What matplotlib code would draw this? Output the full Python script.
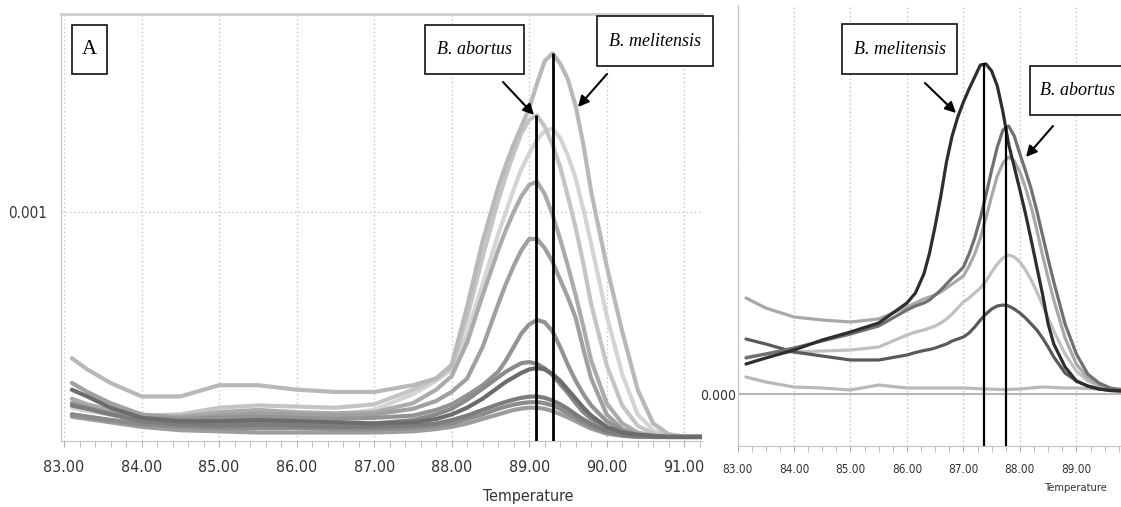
import numpy as np
import matplotlib
matplotlib.use('Agg')
import matplotlib.pyplot as plt
from matplotlib.patches import Rectangle, FancyArrowPatch
from matplotlib.ticker import MultipleLocator

# panel A: melt-curve derivative, values in units of 1e-4
temp_a = [83.1, 83.3, 83.6, 84.0, 84.5, 85.0, 85.5, 86.0, 86.5, 87.0, 87.5, 87.8,
          88.0, 88.2, 88.4,
          88.6, 88.7, 88.8, 88.9, 89.0, 89.1, 89.2, 89.3, 89.4, 89.5, 89.6, 89.7, 89.8,
          90.0, 90.2, 90.4, 90.6, 90.8, 91.0, 91.23]
a_mel = [3.5, 3.0, 2.4, 1.8, 1.8, 2.3, 2.3, 2.1, 2.0, 2.0, 2.3, 2.6,
         3.2, 5.8, 8.7,
         11.1, 12.1, 13.0, 13.8, 14.6, 15.7, 16.7, 17.05, 16.6, 15.9, 14.7, 13.0, 10.9,
         7.6, 4.7, 2.1, 0.6, 0.12, 0.02, 0.0]
a_abo = [1.5, 1.35, 1.2, 0.95, 1.0, 1.3, 1.4, 1.35, 1.3, 1.45, 2.1, 2.6,
         3.1, 5.3, 8.0,
         10.5, 11.6, 12.6, 13.5, 14.1, 14.3, 13.8, 13.0, 12.0, 10.7, 9.3, 7.7, 5.9,
         3.2, 1.4, 0.5, 0.15, 0.05, 0.0, 0.0]
a_c1b = [1.3, 1.15, 1.0, 0.8, 0.85, 1.05, 1.1, 1.05, 1.0, 1.2, 1.9, 2.5,
         3.0, 4.6, 6.8,
         9.0, 10.0, 11.0, 11.9, 12.6, 13.2, 13.6, 13.7, 13.3, 12.5, 11.5, 10.1, 8.6,
         5.4, 2.8, 1.0, 0.3, 0.08, 0.0, 0.0]
a_c3 = [1.7, 1.45, 1.2, 0.9, 0.9, 1.1, 1.2, 1.1, 1.05, 1.1, 1.5, 2.1,
        2.7, 4.2, 6.3,
        8.3, 9.2, 10.0, 10.7, 11.2, 11.35, 10.8, 9.9, 8.8, 7.6, 6.3, 4.9, 3.4,
        1.5, 0.6, 0.2, 0.05, 0.0, 0.0, 0.0]
a_c4 = [2.4, 2.0, 1.5, 1.0, 0.85, 0.95, 1.05, 1.0, 0.95, 1.0, 1.25, 1.6,
        2.0, 2.6, 4.0,
        5.9, 6.8, 7.6, 8.3, 8.8, 8.8, 8.4, 7.8, 7.0, 6.2, 5.3, 3.9, 2.6,
        1.0, 0.35, 0.1, 0.0, 0.0, 0.0, 0.0]
a_c5 = [1.5, 1.3, 1.05, 0.85, 0.8, 0.85, 0.9, 0.85, 0.8, 0.85, 0.95, 1.2,
        1.45, 1.85, 2.3,
        2.9, 3.4, 4.0, 4.6, 5.0, 5.2, 5.1, 4.7, 4.0, 3.2, 2.5, 1.9, 1.4,
        0.7, 0.3, 0.1, 0.05, 0.0, 0.0, 0.0]
a_c6 = [1.0, 0.9, 0.75, 0.6, 0.55, 0.6, 0.65, 0.6, 0.55, 0.6, 0.75, 1.0,
        1.25, 1.65, 2.15,
        2.65, 2.9, 3.1, 3.28, 3.33, 3.25, 3.05, 2.75, 2.35, 1.95, 1.5, 1.1, 0.8,
        0.35, 0.15, 0.05, 0.0, 0.0, 0.0, 0.0]
a_c7 = [2.1, 1.8, 1.3, 0.85, 0.7, 0.7, 0.75, 0.7, 0.65, 0.6, 0.65, 0.8,
        1.0, 1.3, 1.7,
        2.2, 2.45, 2.65, 2.85, 3.0, 3.07, 3.0, 2.8, 2.5, 2.1, 1.7, 1.3, 0.95,
        0.45, 0.2, 0.1, 0.05, 0.0, 0.0, 0.0]
a_c8 = [1.4, 1.25, 1.0, 0.7, 0.55, 0.5, 0.55, 0.5, 0.45, 0.45, 0.5, 0.6,
        0.75, 0.95, 1.2,
        1.45, 1.56, 1.66, 1.74, 1.79, 1.8, 1.74, 1.62, 1.45, 1.25, 1.0, 0.78, 0.57,
        0.25, 0.1, 0.05, 0.0, 0.0, 0.0, 0.0]
a_c9 = [1.0, 0.9, 0.75, 0.55, 0.45, 0.4, 0.4, 0.4, 0.35, 0.35, 0.4, 0.5,
        0.6, 0.8, 1.0,
        1.25, 1.35, 1.44, 1.5, 1.54, 1.55, 1.5, 1.4, 1.25, 1.05, 0.85, 0.65, 0.47,
        0.2, 0.08, 0.0, 0.0, 0.0, 0.0, 0.0]
a_c10 = [0.9, 0.8, 0.65, 0.45, 0.3, 0.25, 0.2, 0.2, 0.2, 0.2, 0.25, 0.35,
         0.45, 0.6, 0.8,
         1.0, 1.1, 1.2, 1.26, 1.3, 1.3, 1.25, 1.15, 1.02, 0.87, 0.7, 0.53, 0.37,
         0.15, 0.05, 0.0, 0.0, 0.0, 0.0, 0.0]
a_peak_t = [89.09, 89.31]      # abortus, melitensis
a_peak_h = [14.3, 17.07]

# panel B
temp_b = [83.15, 83.5, 84.0, 84.5, 85.0, 85.5, 86.0, 86.15, 86.3, 86.4,
          86.5, 86.6, 86.7, 86.8, 86.9, 87.0, 87.1, 87.2, 87.3, 87.4, 87.5,
          87.6, 87.7, 87.8, 87.9, 88.0, 88.1, 88.2, 88.3, 88.4, 88.5, 88.6,
          88.8, 89.0, 89.2, 89.4, 89.6, 89.8]
b_mel = [3.0, 3.6, 4.4, 5.4, 6.2, 7.1, 9.1, 10.1, 12.0, 14.1,
         16.8, 19.8, 23.2, 25.8, 27.7, 29.2, 30.5, 31.7, 32.9, 33.0, 32.3,
         30.8, 28.2, 25.0, 22.7, 20.4, 18.0, 15.4, 12.7, 10.0, 7.0, 5.0,
         2.7, 1.3, 0.8, 0.5, 0.35, 0.3]
b_abo = [3.6, 4.0, 4.6, 5.3, 6.0, 6.8, 8.4, 8.8, 9.1, 9.4,
         9.9, 10.4, 11.0, 11.6, 12.1, 12.7, 14.0, 15.6, 17.6, 19.9, 22.4,
         24.7, 26.4, 26.8, 25.8, 24.0, 22.3, 20.5, 18.3, 15.9, 13.5, 11.2,
         7.0, 4.0, 2.0, 1.1, 0.6, 0.4]
b_c3 = [9.6, 8.6, 7.7, 7.4, 7.2, 7.5, 8.7, 9.1, 9.5, 9.7,
        9.9, 10.2, 10.6, 11.0, 11.4, 11.8, 12.8, 14.0, 15.6, 17.6, 19.8,
        21.8, 23.1, 23.7, 23.3, 22.2, 20.6, 18.7, 16.4, 13.9, 11.6, 9.4,
        5.6, 3.0, 1.6, 0.9, 0.5, 0.4]
b_c4 = [3.7, 4.0, 4.2, 4.3, 4.4, 4.7, 5.9, 6.2, 6.4, 6.6,
        6.8, 7.1, 7.5, 8.0, 8.6, 9.2, 9.6, 10.1, 10.6, 11.3, 12.2,
        13.0, 13.6, 13.9, 13.7, 13.2, 12.4, 11.4, 10.2, 8.9, 7.6, 6.3,
        4.0, 2.3, 1.3, 0.8, 0.5, 0.4]
b_c5 = [5.5, 5.0, 4.2, 3.8, 3.4, 3.4, 3.9, 4.15, 4.35, 4.45,
        4.6, 4.8, 5.0, 5.3, 5.5, 5.7, 6.1, 6.7, 7.4, 8.0, 8.5,
        8.8, 8.9, 8.8, 8.5, 8.1, 7.6, 7.0, 6.4, 5.6, 4.7, 3.7,
        2.1, 1.3, 0.8, 0.5, 0.35, 0.3]
b_c6 = [1.7, 1.2, 0.7, 0.6, 0.4, 0.9, 0.6, 0.6, 0.6, 0.6,
        0.6, 0.6, 0.6, 0.6, 0.6, 0.6, 0.58, 0.55, 0.52, 0.5, 0.48,
        0.46, 0.45, 0.46, 0.48, 0.5, 0.55, 0.6, 0.65, 0.7, 0.68, 0.65,
        0.6, 0.6, 0.55, 0.5, 0.5, 0.5]
b_peak_t = [87.36, 87.76]      # melitensis, abortus
b_peak_h = [33.1, 26.8]

scale = 1e-4
W, H = 1121, 507
sans = ['DejaVu Sans']
serif = ['Liberation Serif', 'DejaVu Serif']


def rect(l, t, r, b):
    return [l / W, 1 - b / H, (r - l) / W, (b - t) / H]


def fp(x, y):
    return (x / W, 1 - y / H)


fig = plt.figure(figsize=(W / 100, H / 100), dpi=100)

# ---- panel A
ax = fig.add_axes(rect(61, 14, 702, 441))
curves_a = [(a_c1b, '#d4d4d4'), (a_abo, '#c4c4c4'), (a_mel, '#b8b8b8'), (a_c3, '#ababab'),
            (a_c4, '#a0a0a0'), (a_c10, '#9c9c9c'), (a_c5, '#939393'), (a_c9, '#8c8c8c'),
            (a_c6, '#8a8a8a'), (a_c8, '#7c7c7c'), (a_c7, '#6c6c6c')]
for vals, col in curves_a:
    ax.plot(temp_a, np.array(vals) * scale, color=col, lw=3, solid_capstyle='round',
            solid_joinstyle='round')
ax.set_xlim(82.96, 91.23)
ax.set_ylim(-0.18 * scale, 18.8 * scale)
ax.vlines(a_peak_t, -0.18 * scale, np.array(a_peak_h) * scale, color='k', lw=2, zorder=5)

ax.set_xticks(range(83, 92))
ax.set_xticklabels(['%.2f' % t for t in range(83, 92)], family=sans, fontstretch='condensed',
                   fontsize=11.5, color='#333333')
ax.xaxis.set_minor_locator(MultipleLocator(0.2))
ax.tick_params(axis='x', which='both', direction='out', length=4, color='#b0b0b0', pad=10)
ax.set_yticks([0.001])
ax.set_yticklabels(['0.001'], family=sans, fontstretch='condensed', fontsize=11,
                   color='#333333')
ax.tick_params(axis='y', length=0, pad=10)
ax.grid(True, ls=(0, (1, 2)), color='#c4c4c4', lw=1)
ax.set_xlabel('Temperature', family=sans, fontstretch='condensed', fontsize=11.5,
              color='#333333', x=0.729, labelpad=10)
for s in ['left', 'bottom']:
    ax.spines[s].set_color('#c4c4c4')
ax.spines['top'].set_color('#cccccc')
ax.spines['top'].set_linewidth(2)
ax.spines['right'].set_visible(False)

# ---- panel B
bx = fig.add_axes(rect(737.5, 5, 1121, 446))
curves_b = [(b_c6, '#b8b8b8'), (b_c4, '#c0c0c0'), (b_c3, '#a8a8a8'), (b_c5, '#5a5a5a'),
            (b_abo, '#707070'), (b_mel, '#2e2e2e')]
for vals, col in curves_b:
    bx.plot(temp_b, np.array(vals) * scale, color=col, lw=2.3, solid_capstyle='round',
            solid_joinstyle='round')
bx.set_xlim(83.0, 89.79)
bx.set_ylim(-5.2 * scale, 38.9 * scale)
bx.vlines(b_peak_t, -5.2 * scale, np.array(b_peak_h) * scale, color='k', lw=1.6, zorder=5)
bx.axhline(0, color='#b8b8b8', lw=1.5, zorder=0)

bx.set_xticks(range(83, 90))
bx.set_xticklabels(['%.2f' % t for t in range(83, 90)], family=sans, fontstretch='condensed',
                   fontsize=8.5, color='#333333')
bx.xaxis.set_minor_locator(MultipleLocator(0.25))
bx.tick_params(axis='x', which='both', direction='out', length=4, color='#b0b0b0', pad=8)
bx.set_yticks([0])
bx.set_yticklabels(['0.000'], family=sans, fontstretch='condensed', fontsize=10,
                   color='#333333')
bx.tick_params(axis='y', length=0, pad=1)
bx.grid(True, axis='x', ls=(0, (1, 2)), color='#c4c4c4', lw=1)
bx.set_xlabel('Temperature', family=sans, fontstretch='condensed', fontsize=8,
              color='#333333', x=0.885, labelpad=5)
for s in ['left', 'bottom']:
    bx.spines[s].set_color('#c4c4c4')
for s in ['top', 'right']:
    bx.spines[s].set_visible(False)

# ---- annotation boxes and arrows
boxes = [((72, 25, 107, 74), 'A', 'normal', 15),
         ((425, 25, 524, 74), 'B. abortus', 'italic', 13),
         ((597, 16, 713, 66), 'B. melitensis', 'italic', 13),
         ((842, 24, 957, 74), 'B. melitensis', 'italic', 13),
         ((1030, 66, 1140, 115), 'B. abortus', 'italic', 13)]
for (l, t, r, b), txt, sty, fs in boxes:
    fig.add_artist(Rectangle(fp(l, b), (r - l) / W, (b - t) / H, transform=fig.transFigure,
                             fc='white', ec='#111111', lw=1.2, zorder=10))
    if r > W:
        fig.text(*fp(1040, (t + b) / 2), txt, ha='left', va='center', family=serif,
                 style=sty, fontsize=fs, zorder=11)
    else:
        fig.text(*fp((l + r) / 2, (t + b) / 2), txt, ha='center', va='center', family=serif,
                 style=sty, fontsize=fs, zorder=11)

arrows = [((503, 82), (534, 115)), ((607, 74), (578, 107)),
          ((925, 83), (956, 113)), ((1053, 126), (1026, 157))]
for p0, p1 in arrows:
    fig.add_artist(FancyArrowPatch(fp(*p0), fp(*p1), transform=fig.transFigure,
                                   arrowstyle='-|>', mutation_scale=16, lw=1.5,
                                   color='black', shrinkA=0, shrinkB=0, zorder=12))

plt.savefig('out.png', dpi=100)
